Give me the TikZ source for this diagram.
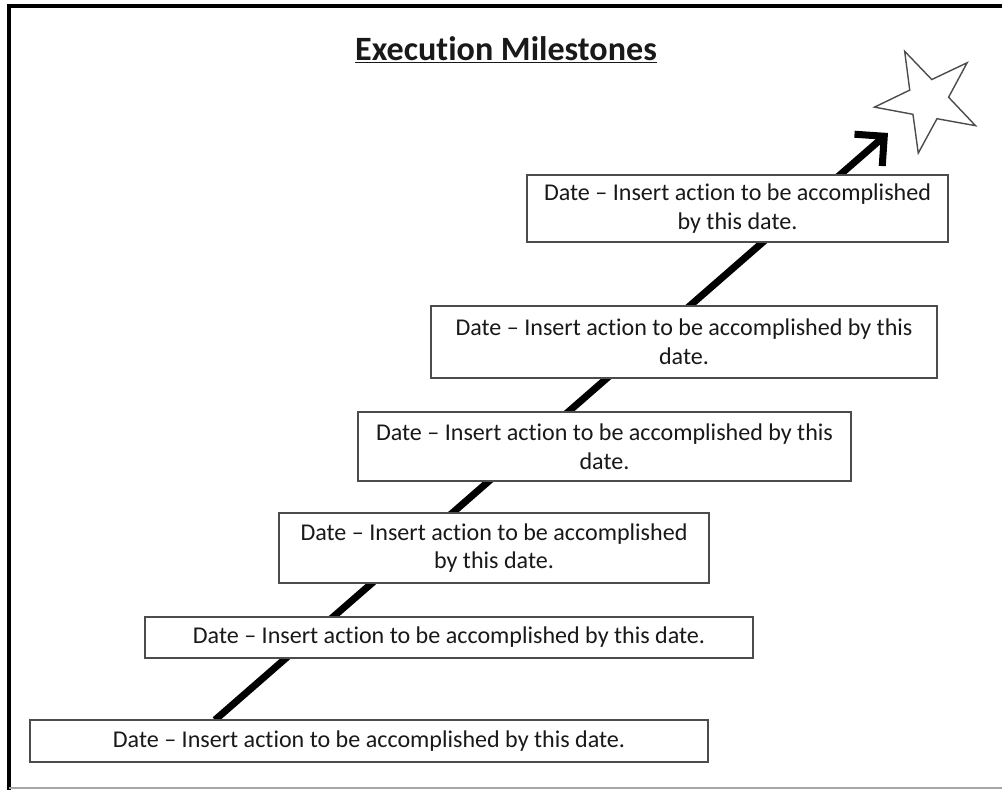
\documentclass[tikz,border=0pt]{standalone}
\usepackage{fontspec}
\setmainfont{Carlito}[Ligatures={TeX,NoCommon}]
\usetikzlibrary{arrows.meta, shapes.geometric}

\tikzset{
    milestone/.style={draw=gray!60!black, fill=white, line width=1pt, align=center, inner sep=0pt,
        font=\fontsize{13.7}{16.4}\selectfont, text=black!90},
}

\begin{document}
\begin{tikzpicture}
        \useasboundingbox (0,0) rectangle (20.04,15.8);
        % frame
        \draw[line width=1.8pt] (0.18,0) -- (0.18,15.68) -- (20.04,15.68);
        \draw[gray!70, line width=0.8pt] (0.18,0.04) -- (20.04,0.04);

        \node[font=\bfseries\fontsize{19.4}{23}\selectfont, text=black!90] (title) at (10.12,14.8) {\underline{Execution Milestones}};

        \coordinate (start) at (4.30,1.40);
        \coordinate (tip) at (17.76,13.14);
        \draw[line width=4pt, -{Straight Barb[length=12pt,width=24pt]}] (start) -- (tip);

        \node[milestone, minimum width=13.56cm, minimum height=0.84cm] (m1) at (7.38,0.98) {Date -- Insert action to be accomplished by this date.};
        \node[milestone, minimum width=12.16cm, minimum height=0.82cm] (m2) at (8.98,3.05) {Date -- Insert action to be accomplished by this date.};
        \node[milestone, minimum width=8.6cm, minimum height=1.4cm] (m3) at (9.88,4.84) {Date -- Insert action to be accomplished\\ by this date.};
        \node[milestone, minimum width=9.86cm, minimum height=1.38cm] (m4) at (12.09,6.87) {Date -- Insert action to be accomplished by this\\ date.};
        \node[milestone, minimum width=10.12cm, minimum height=1.44cm] (m5) at (13.68,8.96) {Date -- Insert action to be accomplished by this\\ date.};
        \node[milestone, minimum width=8.42cm, minimum height=1.34cm] (m6) at (14.75,11.63) {Date -- Insert action to be accomplished\\ by this date.};

        \node[star, star points=5, star point ratio=2.6, minimum size=2.16cm, inner sep=0pt,
            draw=gray!60!black, line width=0.8pt, rotate=25.6] (goal) at (18.56,13.8) {};
    \end{tikzpicture}
\end{document}
